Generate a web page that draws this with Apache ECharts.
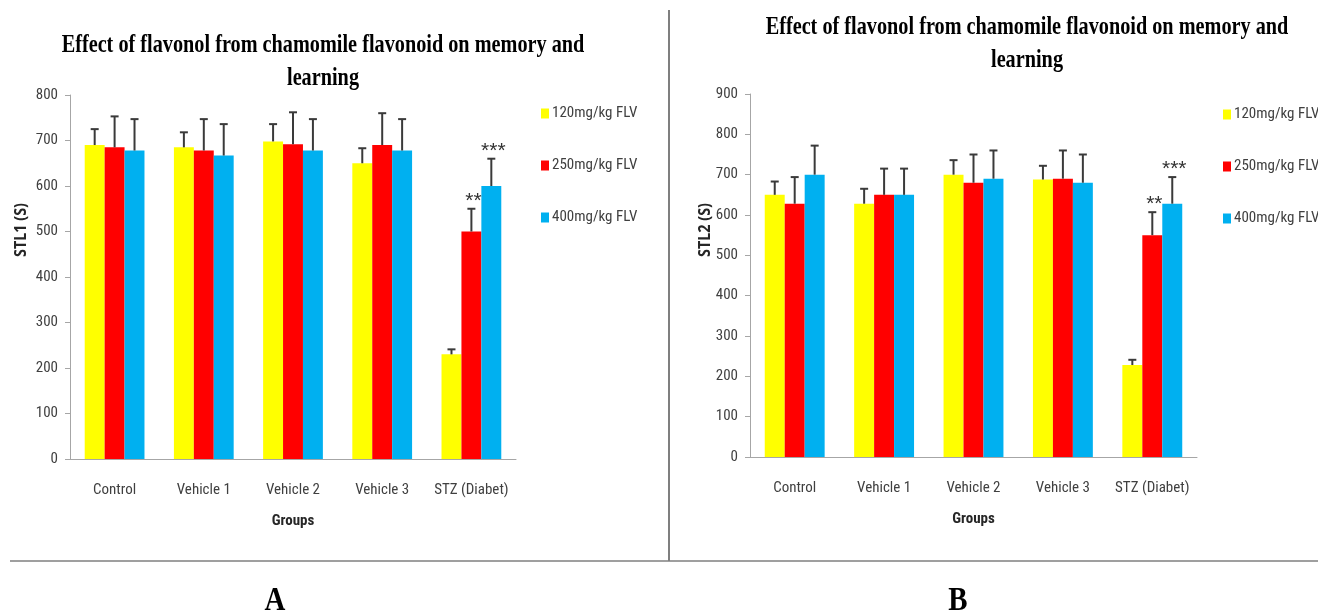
<!DOCTYPE html>
<html>
<head>
<meta charset="utf-8">
<script src="https://cdn.jsdelivr.net/npm/echarts@6/dist/echarts.min.js"></script>
<style>html,body{margin:0;padding:0;background:#fff}#c{width:1318px;height:615px}</style>
</head>
<body>
<div id="c"></div>
<script>
// ---- data ----
const categories = ['Control', 'Vehicle 1', 'Vehicle 2', 'Vehicle 3', 'STZ (Diabet)'];
const seriesNames = ['120mg/kg FLV', '250mg/kg FLV', '400mg/kg FLV'];
const titleLine1 = 'Effect of flavonol from chamomile flavonoid on memory and';
const titleLine2 = 'learning';
const yNameA = 'STL1 (S)';
const yNameB = 'STL2 (S)';
const xName = 'Groups';
// Panel A : STL1 (S)
const stl1_120 = [690, 685, 698, 650, 230];
const stl1_250 = [685, 678, 692, 690, 500];
const stl1_400 = [678, 667, 678, 678, 600];
const stl1_120_err = [35, 33, 38, 33, 11];
const stl1_250_err = [68, 69, 70, 70, 50];
const stl1_400_err = [69, 69, 69, 69, 60];
// Panel B : STL2 (S)
const stl2_120 = [650, 628, 700, 688, 228];
const stl2_250 = [628, 650, 680, 690, 550];
const stl2_400 = [700, 650, 690, 680, 628];
const stl2_120_err = [33, 37, 36, 34, 13];
const stl2_250_err = [66, 65, 70, 70, 57];
const stl2_400_err = [72, 65, 70, 70, 66];
// significance marks (per series, per category)
const signif_120 = ['', '', '', '', ''];
const signif_250 = ['', '', '', '', '**'];
const signif_400 = ['', '', '', '', '***'];
// y axis ticks
const yA = {min: 0, max: 800, interval: 100};
const yB = {min: 0, max: 900, interval: 100};

const colors = ['#FFFF00', '#FF0000', '#00B0F0'];
const sansN = "'Liberation Sans Narrow', 'Roboto Condensed', 'Noto Sans', sans-serif";
const gapPct = 0.33;

const chart = echarts.init(document.getElementById('c'), null, {renderer: 'canvas'});

function errRender(sIdx, marks) {
  return function (params, api) {
    const ci = api.value(0), v = api.value(1), e = api.value(2);
    const p0 = api.coord([ci, v]);
    const p1 = api.coord([ci, v + e]);
    const band = api.size([1, 0])[0];
    const bw = band * (1 - gapPct) / 3;
    const cx = p0[0] + (sIdx - 1) * bw;
    const st = {stroke: '#3a3a3a', lineWidth: 2};
    const children = [
      {type: 'line', shape: {x1: cx, y1: p0[1], x2: cx, y2: p1[1]}, style: st},
      {type: 'line', shape: {x1: cx - 4, y1: p1[1], x2: cx + 4, y2: p1[1]}, style: st}
    ];
    const m = marks[params.dataIndex];
    if (m) {
      children.push({type: 'text', x: cx + 2, y: p1[1] + 3,
        style: {text: m, font: "21px 'Liberation Sans', sans-serif", fill: '#333', textAlign: 'center', textVerticalAlign: 'bottom'}});
    }
    return {type: 'group', children};
  };
}

function panel(gi, vals, errs) {
  const out = [];
  const marks = [signif_120, signif_250, signif_400];
  vals.forEach((arr, s) => {
    out.push({
      type: 'bar', name: seriesNames[s], xAxisIndex: gi, yAxisIndex: gi,
      data: arr, barGap: '0%', barCategoryGap: (gapPct * 100) + '%',
      itemStyle: {color: colors[s]}, silent: true
    });
  });
  vals.forEach((arr, s) => {
    out.push({
      type: 'custom', xAxisIndex: gi, yAxisIndex: gi, silent: true, z: 5,
      renderItem: errRender(s, marks[s]),
      data: arr.map((v, i) => [i, v, errs[s][i]])
    });
  });
  return out;
}

function xAx(gi) {
  return {
    type: 'category', gridIndex: gi, data: categories,
    axisLine: {lineStyle: {color: '#a6a6a6', width: 1}},
    axisTick: {length: 6, lineStyle: {color: '#a6a6a6'}},
    axisLabel: {color: '#404040', fontFamily: sansN, fontSize: 15, margin: 24, interval: 0},
    name: xName, nameLocation: 'middle', nameGap: 55,
    nameTextStyle: {color: '#262626', fontFamily: sansN, fontSize: 15, fontWeight: 'bold'}
  };
}
function yAx(gi, r) {
  return {
    type: 'value', gridIndex: gi, min: r.min, max: r.max, interval: r.interval,
    splitLine: {show: false},
    axisLine: {show: true, lineStyle: {color: '#a6a6a6', width: 1}},
    axisTick: {show: true, length: 5, lineStyle: {color: '#a6a6a6'}},
    axisLabel: {color: '#404040', fontFamily: sansN, fontSize: 15, margin: 12}
  };
}

function legend(left, top) {
  return {
    left, top, orient: 'vertical', data: seriesNames, itemWidth: 8, itemHeight: 10,
    itemGap: 37, icon: 'rect', selectedMode: false, padding: 0,
    textStyle: {color: '#404040', fontFamily: sansN, fontSize: 15, padding: [0, 0, 0, -2]}
  };
}

const titleFont = "bold 25px 'Liberation Serif', 'DejaVu Serif', serif";
function titleEls(cx, y1, y2) {
  return [
    {type: 'text', x: cx, y: y1, scaleX: 0.81, style: {text: titleLine1, font: titleFont, fill: '#000', textAlign: 'center', textVerticalAlign: 'middle'}},
    {type: 'text', x: cx, y: y2, scaleX: 0.81, style: {text: titleLine2, font: titleFont, fill: '#000', textAlign: 'center', textVerticalAlign: 'middle'}}
  ];
}
function yNameEl(x, y, t) {
  return {type: 'text', x, y, rotation: Math.PI / 2, scaleX: 0.9,
    style: {text: t, font: "bold 16px 'Noto Sans', sans-serif", fill: '#262626', textAlign: 'center', textVerticalAlign: 'middle'}};
}

const option = {
  backgroundColor: '#fff',
  animation: false,
  grid: [
    {left: 70, right: 802, top: 95, bottom: 156},
    {left: 750, right: 121, top: 94, bottom: 158}
  ],
  xAxis: [xAx(0), xAx(1)],
  yAxis: [yAx(0, yA), yAx(1, yB)],
  legend: [legend(541, 106), legend(1223, 107)],
  series: [].concat(
    panel(0, [stl1_120, stl1_250, stl1_400], [stl1_120_err, stl1_250_err, stl1_400_err]),
    panel(1, [stl2_120, stl2_250, stl2_400], [stl2_120_err, stl2_250_err, stl2_400_err])
  ),
  graphic: [].concat(
    titleEls(323, 46, 79),
    titleEls(1027, 28, 61),
    [
      yNameEl(21, 230, yNameA),
      yNameEl(705, 230, yNameB),
      {type: 'line', shape: {x1: 669, y1: 10, x2: 669, y2: 561}, style: {stroke: '#7f7f7f', lineWidth: 2}},
      {type: 'line', shape: {x1: 10, y1: 561, x2: 1318, y2: 561}, style: {stroke: '#7f7f7f', lineWidth: 1.5}},
      {type: 'text', x: 275, y: 601, scaleX: 0.85, style: {text: 'A', font: "bold 34px 'Liberation Serif', serif", fill: '#000', textAlign: 'center', textVerticalAlign: 'middle'}},
      {type: 'text', x: 958, y: 601, scaleX: 0.85, style: {text: 'B', font: "bold 34px 'Liberation Serif', serif", fill: '#000', textAlign: 'center', textVerticalAlign: 'middle'}}
    ]
  )
};
chart.setOption(option);
</script>
</body>
</html>
